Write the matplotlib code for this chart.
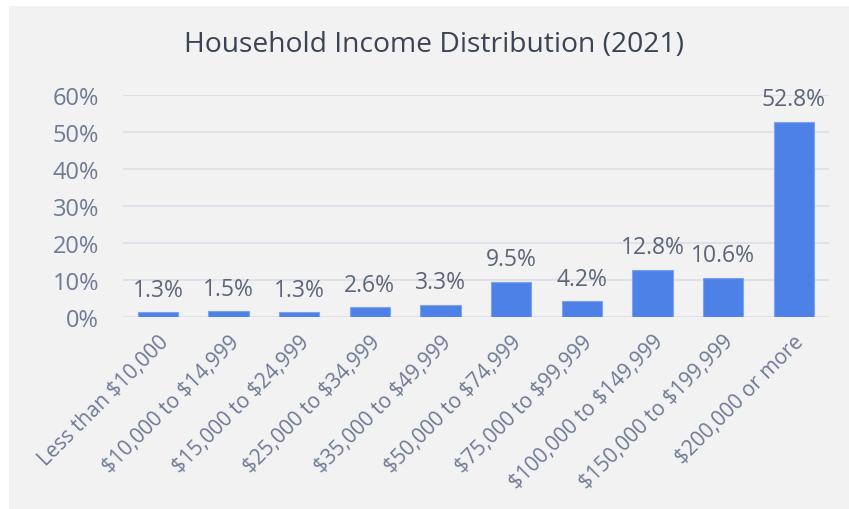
import matplotlib.pyplot as plt
from matplotlib.patches import Rectangle

categories = ['Less than $10,000', '$10,000 to $14,999', '$15,000 to $24,999',
              '$25,000 to $34,999', '$35,000 to $49,999', '$50,000 to $74,999',
              '$75,000 to $99,999', '$100,000 to $149,999', '$150,000 to $199,999',
              '$200,000 or more']
shares = [1.3, 1.5, 1.3, 2.6, 3.3, 9.5, 4.2, 12.8, 10.6, 52.8]
yticks = [0, 10, 20, 30, 40, 50, 60]

plt.rcParams['font.family'] = ['Open Sans', 'DejaVu Sans']
plt.rcParams['text.parse_math'] = False

fig = plt.figure(figsize=(8.49, 5.10), dpi=100, facecolor='white')
# gray panel behind the chart
fig.patches.append(Rectangle((9 / 849, 0), 1 - 9 / 849, 1 - 7 / 510,
                             transform=fig.transFigure, facecolor='#f2f2f2',
                             edgecolor='none', zorder=-5))

ax = fig.add_axes([122.6 / 849, 192 / 510, 706.4 / 849, 222 / 510])
ax.set_facecolor('none')

x = range(len(categories))
ax.bar(x, shares, width=0.57, color='#4e81e8', edgecolor='#7ea3ee',
       linewidth=0.8, zorder=3)

for i, v in enumerate(shares):
    ax.text(i, v + 2.8, f'{v}%', ha='center', va='bottom', fontsize=16.5,
            color='#5d6578')

ax.set_xlim(-0.5, len(categories) - 0.5)
ax.set_ylim(0, 60)
ax.set_yticks(yticks)
ax.set_yticklabels([f'{t}%' for t in yticks], fontsize=17, color='#6f7a96')
ax.yaxis.grid(True, color='#dfe2e8', linewidth=1.5, zorder=0)
ax.tick_params(axis='y', length=0, pad=17)
ax.tick_params(axis='x', length=0, pad=10)
ax.set_xticks(list(x))
ax.set_xticklabels(categories, rotation=45, ha='right', rotation_mode='anchor',
                   fontsize=15, color='#6f7a96')
for s in ax.spines.values():
    s.set_visible(False)

fig.text(434 / 849, 1 - 45 / 510, 'Household Income Distribution (2021)',
         ha='center', va='center', fontsize=20.3, color='#3c4352')

fig.savefig('out.png', dpi=100, facecolor=fig.get_facecolor())
